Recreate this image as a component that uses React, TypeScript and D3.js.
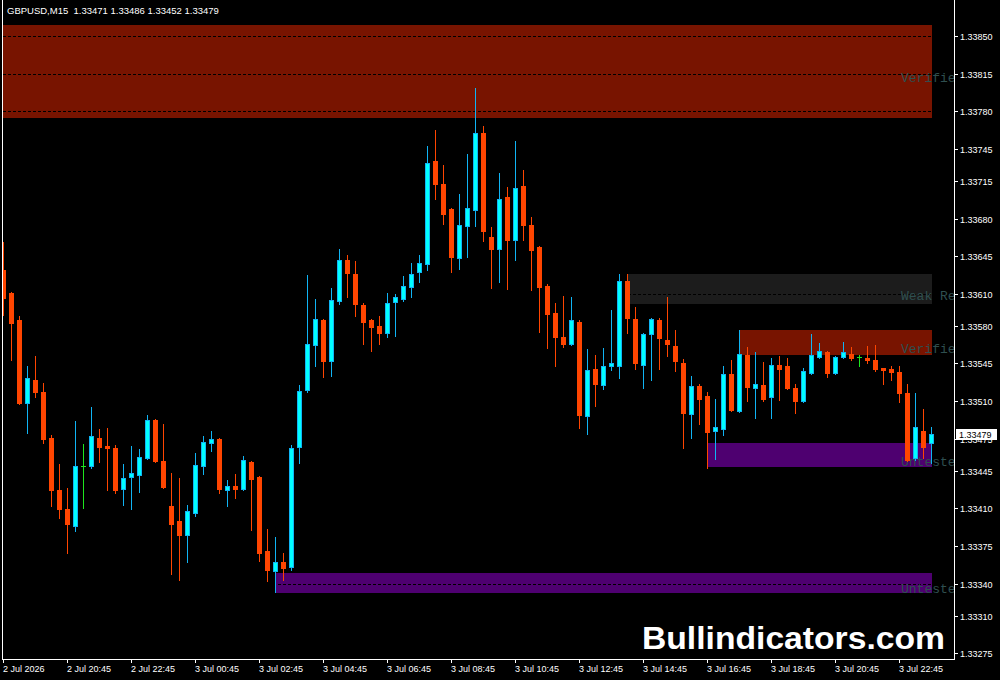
import { useEffect } from 'react'
import * as d3 from 'd3'

// GBPUSD M15, 2 Jul 18:45 -> 3 Jul 23:45
const symbol = 'GBPUSD,M15'

const opens = [
	1.33632, 1.33611, 1.33585, 1.33508, 1.33530, 1.33518, 1.33476, 1.33427, 1.33409, 1.33394,
	1.33449, 1.33449, 1.33476, 1.33468, 1.33466, 1.33428, 1.33439, 1.33441, 1.33457, 1.33492,
	1.33454, 1.33412, 1.33398, 1.33385, 1.33406, 1.33449, 1.33471, 1.33475, 1.33427, 1.33431,
	1.33428, 1.33453, 1.33439, 1.33370, 1.33352, 1.33360, 1.33355, 1.33467, 1.33520, 1.33562,
	1.33585, 1.33547, 1.33603, 1.33641, 1.33628, 1.33599, 1.33585, 1.33580, 1.33573, 1.33602,
	1.33605, 1.33616, 1.33630, 1.33638, 1.33734, 1.33712, 1.33689, 1.33643, 1.33673, 1.33688,
	1.33760, 1.33663, 1.33652, 1.33700, 1.33660, 1.33710, 1.33674, 1.33653, 1.33617, 1.33592,
	1.33570, 1.33563, 1.33584, 1.33496, 1.33540, 1.33525, 1.33543, 1.33543, 1.33622, 1.33586,
	1.33544, 1.33572, 1.33585, 1.33567, 1.33561, 1.33545, 1.33498, 1.33524, 1.33515, 1.33482,
	1.33484, 1.33535, 1.33501, 1.33553, 1.33522, 1.33525, 1.33514, 1.33544, 1.33543, 1.33522,
	1.33510, 1.33536, 1.33551, 1.33556, 1.33536, 1.33551, 1.33554, 1.33551, 1.33550, 1.33548,
	1.33541, 1.33540, 1.33537, 1.33517, 1.33457, 1.33482, 1.33471,
]
const highs = [
	1.33658, 1.33612, 1.33589, 1.33543, 1.33552, 1.33527, 1.33478, 1.33451, 1.33429, 1.33491,
	1.33470, 1.33504, 1.33484, 1.33485, 1.33469, 1.33451, 1.33468, 1.33465, 1.33497, 1.33493,
	1.33489, 1.33443, 1.33438, 1.33413, 1.33462, 1.33477, 1.33482, 1.33476, 1.33436, 1.33442,
	1.33459, 1.33454, 1.33440, 1.33391, 1.33383, 1.33368, 1.33469, 1.33525, 1.33627, 1.33605,
	1.33586, 1.33615, 1.33652, 1.33646, 1.33640, 1.33601, 1.33586, 1.33589, 1.33611, 1.33610,
	1.33626, 1.33639, 1.33646, 1.33748, 1.33762, 1.33730, 1.33690, 1.33703, 1.33740, 1.33802,
	1.33766, 1.33672, 1.33722, 1.33709, 1.33752, 1.33725, 1.33681, 1.33654, 1.33619, 1.33601,
	1.33608, 1.33607, 1.33585, 1.33558, 1.33553, 1.33559, 1.33595, 1.33628, 1.33628, 1.33598,
	1.33573, 1.33587, 1.33587, 1.33607, 1.33576, 1.33549, 1.33533, 1.33526, 1.33518, 1.33512,
	1.33543, 1.33548, 1.33576, 1.33560, 1.33556, 1.33546, 1.33550, 1.33552, 1.33550, 1.33526,
	1.33541, 1.33572, 1.33564, 1.33557, 1.33552, 1.33565, 1.33560, 1.33553, 1.33561, 1.33562,
	1.33541, 1.33543, 1.33543, 1.33526, 1.33517, 1.33503, 1.33486,
]
const lows = [
	1.33590, 1.33548, 1.33507, 1.33480, 1.33514, 1.33471, 1.33412, 1.33401, 1.33368, 1.33389,
	1.33410, 1.33448, 1.33453, 1.33427, 1.33424, 1.33413, 1.33409, 1.33425, 1.33456, 1.33453,
	1.33429, 1.33349, 1.33343, 1.33360, 1.33403, 1.33442, 1.33463, 1.33424, 1.33412, 1.33420,
	1.33427, 1.33390, 1.33361, 1.33342, 1.33332, 1.33343, 1.33353, 1.33452, 1.33518, 1.33543,
	1.33532, 1.33533, 1.33600, 1.33607, 1.33589, 1.33563, 1.33557, 1.33563, 1.33570, 1.33571,
	1.33603, 1.33607, 1.33621, 1.33632, 1.33698, 1.33675, 1.33630, 1.33633, 1.33644, 1.33673,
	1.33659, 1.33615, 1.33621, 1.33614, 1.33641, 1.33660, 1.33613, 1.33574, 1.33559, 1.33543,
	1.33560, 1.33562, 1.33485, 1.33479, 1.33505, 1.33521, 1.33539, 1.33531, 1.33573, 1.33540,
	1.33522, 1.33530, 1.33540, 1.33552, 1.33538, 1.33466, 1.33476, 1.33489, 1.33448, 1.33456,
	1.33478, 1.33501, 1.33500, 1.33510, 1.33494, 1.33510, 1.33494, 1.33511, 1.33521, 1.33499,
	1.33509, 1.33535, 1.33550, 1.33532, 1.33535, 1.33550, 1.33548, 1.33543, 1.33545, 1.33538,
	1.33526, 1.33530, 1.33509, 1.33454, 1.33455, 1.33457, 1.33452,
]
const closes = [
	1.33606, 1.33583, 1.33508, 1.33531, 1.33518, 1.33475, 1.33427, 1.33409, 1.33395, 1.33449,
	1.33449, 1.33477, 1.33467, 1.33466, 1.33427, 1.33438, 1.33443, 1.33458, 1.33492, 1.33454,
	1.33430, 1.33395, 1.33385, 1.33408, 1.33450, 1.33472, 1.33475, 1.33428, 1.33431, 1.33428,
	1.33455, 1.33437, 1.33368, 1.33353, 1.33360, 1.33354, 1.33466, 1.33519, 1.33563, 1.33586,
	1.33547, 1.33604, 1.33641, 1.33629, 1.33600, 1.33584, 1.33579, 1.33573, 1.33601, 1.33607,
	1.33617, 1.33628, 1.33639, 1.33732, 1.33712, 1.33684, 1.33644, 1.33674, 1.33690, 1.33760,
	1.33668, 1.33652, 1.33698, 1.33660, 1.33708, 1.33674, 1.33651, 1.33616, 1.33591, 1.33570,
	1.33563, 1.33585, 1.33497, 1.33539, 1.33526, 1.33543, 1.33545, 1.33622, 1.33587, 1.33545,
	1.33572, 1.33586, 1.33569, 1.33563, 1.33547, 1.33499, 1.33524, 1.33512, 1.33481, 1.33486,
	1.33535, 1.33502, 1.33554, 1.33523, 1.33526, 1.33512, 1.33544, 1.33540, 1.33522, 1.33510,
	1.33538, 1.33553, 1.33557, 1.33536, 1.33551, 1.33556, 1.33550, 1.33551, 1.33548, 1.33540,
	1.33539, 1.33537, 1.33517, 1.33455, 1.33486, 1.33467, 1.33479,
]

// price scale labels (top -> bottom), 1.33475 sits under the current price box
const priceTicks = [
	1.33850, 1.33815, 1.33780, 1.33745, 1.33715, 1.33680, 1.33645, 1.33610, 1.33580,
	1.33545, 1.33510, 1.33475, 1.33445, 1.33410, 1.33375, 1.33340, 1.33310, 1.33275,
]

// one label every 8 bars (2 hours)
const timeLabels = [
	'2 Jul 2026', '2 Jul 20:45', '2 Jul 22:45', '3 Jul 00:45', '3 Jul 02:45',
	'3 Jul 04:45', '3 Jul 06:45', '3 Jul 08:45', '3 Jul 10:45', '3 Jul 12:45',
	'3 Jul 14:45', '3 Jul 16:45', '3 Jul 18:45', '3 Jul 20:45', '3 Jul 22:45',
]

// supply / demand zones
const zoneNames = ['Verified', 'Weak Res', 'Verified', 'Untested', 'Untested']
const zoneTops = [1.33860, 1.33628, 1.33576, 1.33471, 1.33350]
const zoneBottoms = [1.33775, 1.33601, 1.33554, 1.33449, 1.33332]
const zoneStartBar = [-1, 78, 92, 88, 34]

const zoneFill: Record<string, string> = {
	'Verified': '#781400',
	'Weak Res': '#1c1c1c',
	'Untested': '#4e0070',
}

const bullBody = '#00ffff'
const bullLine = '#10b4f4'
const bearColor = '#ff4500'
const dojiColor = '#1ee61e'
const axisFont = "Tahoma, 'Liberation Sans', Arial, sans-serif"

export default function App() {
	useEffect(() => {
		document.body.style.margin = '0'
		document.body.style.background = '#000'
	}, [])

	const w = 1000
	const h = 680
	const left = 3
	const right = 954
	const bottom = 659
	const last = opens.length - 1

	const x = d3.scaleLinear().domain([0, last]).range([3, 931])
	const y = d3.scaleLinear()
		.domain([priceTicks[priceTicks.length - 1], priceTicks[0]])
		.range([653.3, 36])
	const px = (i: number) => Math.round(x(i))
	const py = (p: number) => Math.round(y(p))

	const header = `${symbol}  ${opens[last].toFixed(5)} ${highs[last].toFixed(5)} ${lows[last].toFixed(5)} ${closes[last].toFixed(5)}`
	const cur = py(closes[last])

	return (
		<svg width={w} height={h} style={{ display: 'block', background: '#000' }}>
			<defs>
				<clipPath id="plot">
					<rect x={left} y={0} width={right - left} height={bottom} />
				</clipPath>
			</defs>
			<rect x={0} y={0} width={w} height={h} fill="#000" />

			<g clipPath="url(#plot)">
				{/* zones */}
				{zoneNames.map((name, k) => {
					const x0 = px(zoneStartBar[k])
					const x1 = px(last)
					const y0 = py(zoneTops[k])
					const y1 = py(zoneBottoms[k])
					return <rect key={'z' + k} x={x0} y={y0} width={x1 - x0 + 1} height={y1 - y0 + 1} fill={zoneFill[name]} />
				})}

				{/* grid: black dashes, only visible over zones */}
				{priceTicks.map((t, k) => (
					<line key={'g' + k} x1={left} x2={right} y1={py(t) + 0.5} y2={py(t) + 0.5}
						stroke="#000" strokeWidth={1} strokeDasharray="3,2" />
				))}

				{/* zone labels */}
				{zoneNames.map((name, k) => {
					const mid = py((zoneTops[k] + zoneBottoms[k]) / 2)
					return (
						<text key={'zl' + k} x={901} y={mid + 11} fill="#2f4f4f"
							fontFamily="'Liberation Mono', 'Courier New', monospace" fontSize={13}>
							{name}
						</text>
					)
				})}

				{/* candles */}
				{opens.map((o, i) => {
					const c = closes[i]
					const cx = px(i)
					const yH = py(highs[i])
					const yL = py(lows[i])
					const yT = py(Math.max(o, c))
					const yB = py(Math.min(o, c))
					if (o === c) {
						return (
							<g key={'c' + i}>
								<rect x={cx} y={yH} width={1} height={yL - yH + 1} fill={dojiColor} />
								<rect x={cx - 2} y={yT} width={5} height={1} fill={dojiColor} />
							</g>
						)
					}
					if (c > o) {
						return (
							<g key={'c' + i}>
								<rect x={cx} y={yH} width={1} height={yL - yH + 1} fill={bullLine} />
								<rect x={cx - 2} y={yT} width={5} height={yB - yT + 1} fill={bullLine} />
								{yB - yT > 1 && <rect x={cx - 1} y={yT + 1} width={3} height={yB - yT - 1} fill={bullBody} />}
							</g>
						)
					}
					return (
						<g key={'c' + i}>
							<rect x={cx} y={yH} width={1} height={yL - yH + 1} fill={bearColor} />
							<rect x={cx - 2} y={yT} width={5} height={yB - yT + 1} fill={bearColor} />
						</g>
					)
				})}
			</g>

			{/* frame */}
			<line x1={2.5} x2={2.5} y1={0} y2={bottom} stroke="#fff" />
			<line x1={right + 0.5} x2={right + 0.5} y1={0} y2={bottom + 1} stroke="#fff" />
			<line x1={2} x2={right + 1} y1={bottom + 0.5} y2={bottom + 0.5} stroke="#fff" />

			{/* price axis */}
			{priceTicks.map((t, k) => (
				<g key={'p' + k}>
					<line x1={right} x2={right + 4} y1={py(t) + 0.5} y2={py(t) + 0.5} stroke="#fff" />
					<text x={960} y={py(t) + 3.5} fill="#fff" fontFamily={axisFont} fontSize={9}>{t.toFixed(5)}</text>
				</g>
			))}
			<rect x={956} y={cur - 5} width={41} height={11} fill="#fff" />
			<text x={959} y={cur + 4} fill="#000" fontFamily={axisFont} fontSize={9}>{closes[last].toFixed(5)}</text>

			{/* time axis */}
			{timeLabels.map((lab, k) => {
				const tx = px(k * 8)
				return (
					<g key={'t' + k}>
						<line x1={tx + 0.5} x2={tx + 0.5} y1={bottom} y2={bottom + 4} stroke="#fff" />
						<text x={tx} y={672} fill="#fff" fontFamily={axisFont} fontSize={9}>{lab}</text>
					</g>
				)
			})}

			{/* header */}
			<text x={7} y={14} fill="#fff" fontFamily={axisFont} fontSize={9.5} style={{ whiteSpace: 'pre' }}>{header}</text>

			{/* watermark */}
			<text x={642} y={649} fill="#fff" fontFamily="'Liberation Sans', Arial, sans-serif" fontWeight="bold"
				fontSize={32} textLength={303} lengthAdjust="spacingAndGlyphs">Bullindicators.com</text>
		</svg>
	)
}
